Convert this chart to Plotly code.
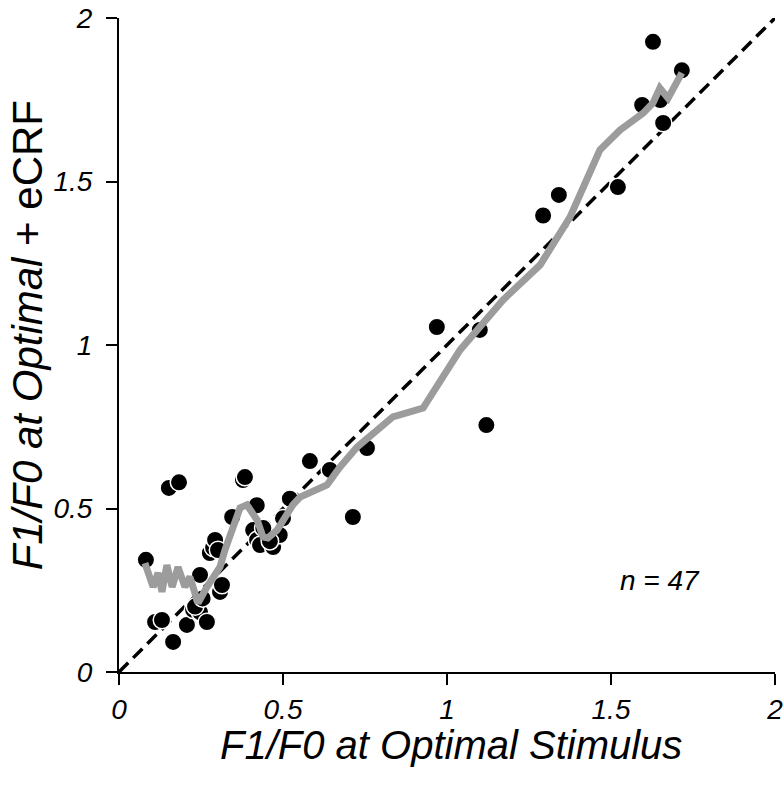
import plotly.graph_objects as go

# Scatter data: F1/F0 at optimal stimulus (x) vs F1/F0 at optimal + eCRF (y)
x_opt = [0.082, 0.110, 0.131, 0.152, 0.183, 0.165, 0.207, 0.226, 0.247, 0.268,
         0.247, 0.277, 0.287, 0.293, 0.302, 0.308, 0.314, 0.345, 0.378, 0.384,
         0.420, 0.409, 0.421, 0.430, 0.470, 0.490, 0.521, 0.582, 0.643, 0.713,
         0.756, 0.969, 1.100, 1.120, 1.293, 1.341, 1.521, 1.595, 1.650, 1.659,
         1.628, 1.716, 0.232, 0.255, 0.460, 0.500, 0.440]
y_ecrf = [0.343, 0.153, 0.159, 0.563, 0.580, 0.092, 0.144, 0.190, 0.183, 0.153,
          0.297, 0.364, 0.380, 0.404, 0.373, 0.245, 0.266, 0.474, 0.587, 0.596,
          0.510, 0.434, 0.404, 0.388, 0.382, 0.419, 0.530, 0.645, 0.618, 0.474,
          0.685, 1.055, 1.046, 0.755, 1.396, 1.459, 1.483, 1.734, 1.749, 1.679,
          1.927, 1.840, 0.200, 0.225, 0.400, 0.470, 0.440]

# Running average (grey curve)
avg_x = [0.079, 0.095, 0.104, 0.119, 0.131, 0.146, 0.162, 0.180, 0.201, 0.216,
         0.232, 0.241, 0.268, 0.287, 0.308, 0.323, 0.345, 0.369, 0.390, 0.421,
         0.439, 0.454, 0.482, 0.506, 0.530, 0.552, 0.582, 0.634, 0.674, 0.726,
         0.835, 0.927, 1.040, 1.171, 1.284, 1.375, 1.466, 1.527, 1.598, 1.628,
         1.649, 1.674, 1.716]
avg_y = [0.333, 0.291, 0.260, 0.303, 0.245, 0.327, 0.260, 0.321, 0.260, 0.291,
         0.242, 0.211, 0.260, 0.291, 0.321, 0.373, 0.434, 0.502, 0.511, 0.465,
         0.413, 0.410, 0.434, 0.474, 0.511, 0.535, 0.547, 0.572, 0.627, 0.688,
         0.780, 0.807, 0.985, 1.138, 1.245, 1.391, 1.596, 1.657, 1.709, 1.740,
         1.786, 1.755, 1.832]

unity = [0, 2]
tick_vals = [0, 0.5, 1, 1.5, 2]
tick_text = ["0", "0.5", "1", "1.5", "2"]
n_label = "n = 47"

FONT = "Liberation Sans, Arial, sans-serif"

fig = go.Figure()
fig.add_trace(go.Scatter(x=unity, y=unity, mode="lines",
                         line=dict(color="black", width=3.5, dash="13px,7px"),
                         hoverinfo="skip", showlegend=False, cliponaxis=False))
fig.add_trace(go.Scatter(x=x_opt, y=y_ecrf, mode="markers",
                         marker=dict(color="black", size=17.5,
                                     line=dict(color="white", width=1.5)),
                         showlegend=False, cliponaxis=False))
fig.add_trace(go.Scatter(x=avg_x, y=avg_y, mode="lines",
                         line=dict(color="#9c9c9c", width=7),
                         showlegend=False, cliponaxis=False))

axis_common = dict(
    range=[0, 2], tickvals=tick_vals, ticktext=tick_text,
    showgrid=False, zeroline=False, showline=True, linecolor="black",
    linewidth=2, ticks="outside", ticklen=11, tickwidth=2, tickcolor="black",
    tickfont=dict(family=FONT, size=28, color="black", style="italic"),
    automargin=False, ticklabeloverflow="allow",
)
fig.update_xaxes(**axis_common, ticklabelstandoff=0)
fig.update_yaxes(**axis_common, ticklabelstandoff=8)

fig.update_layout(
    width=783, height=792,
    margin=dict(l=119, r=8, t=18, b=120, autoexpand=False),
    plot_bgcolor="white", paper_bgcolor="white",
    font=dict(family=FONT, color="black"),
    annotations=[
        dict(text="<i>F1/F0 at Optimal Stimulus</i>", xref="paper", yref="paper",
             x=0.506, y=-0.112, showarrow=False, xanchor="center", yanchor="middle",
             font=dict(family=FONT, size=40, color="black")),
        dict(text="<i>F1/F0 at Optimal</i> + eCRF", xref="paper", yref="paper",
             x=-0.140, y=0.515, showarrow=False, xanchor="center", yanchor="middle",
             textangle=-90, font=dict(family=FONT, size=42, color="black")),
        dict(text="<i>" + n_label + "</i>", x=1.65, y=0.28, xref="x", yref="y",
             showarrow=False, xanchor="center", yanchor="middle",
             font=dict(family=FONT, size=28, color="black")),
    ],
)

# Remove the default 8 px page margin so the figure fills the window exactly.
fig.write_html("out.html", config={"displayModeBar": False},
               post_script="document.body.style.margin='0';document.body.style.padding='0';")
